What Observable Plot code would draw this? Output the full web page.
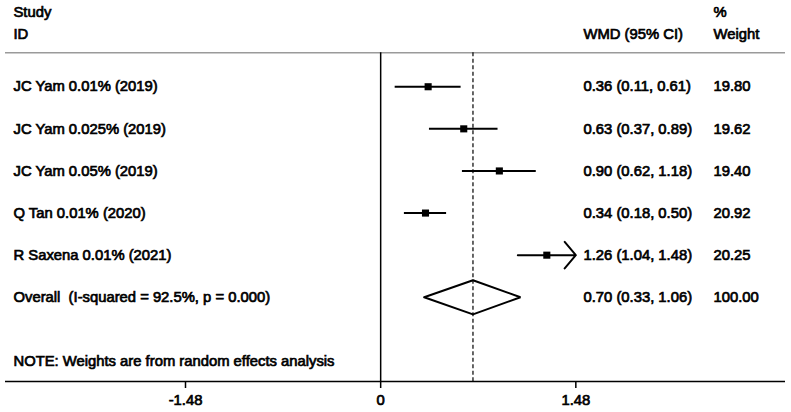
<!DOCTYPE html>
<html>
<head>
<meta charset="utf-8">
<script src="https://cdn.jsdelivr.net/npm/d3@7"></script>
<script src="https://cdn.jsdelivr.net/npm/@observablehq/plot@0.6"></script>
<style>
  html, body { margin: 0; padding: 0; background: #fff; }
  #chart svg { display: block; }
  #chart svg text { stroke: #000; stroke-width: 0.7px; paint-order: stroke; }
</style>
</head>
<body>
<div id="chart"></div>
<script>
// ---- data ----
const studies = ["JC Yam 0.01% (2019)", "JC Yam 0.025% (2019)", "JC Yam 0.05% (2019)", "Q Tan 0.01% (2020)", "R Saxena 0.01% (2021)"];
const wmd = [0.36, 0.63, 0.90, 0.34, 1.26];
const ciLow = [0.11, 0.37, 0.62, 0.18, 1.04];
const ciHigh = [0.61, 0.89, 1.18, 0.50, 1.48];
const weights = [19.80, 19.62, 19.40, 20.92, 20.25];
const overallLabel = "Overall\u00a0\u00a0(I-squared = 92.5%, p = 0.000)";
const overallWmd = 0.70;
const overallLow = 0.33;
const overallHigh = 1.06;
const overallWeight = 100.00;
const xTicks = [-1.48, 0, 1.48];
const noteText = "NOTE: Weights are from random effects analysis";
const headerLeft = ["Study", "ID"];
const headerMid = "WMD (95% CI)";
const headerRight = ["%", "Weight"];

// ---- build table ----
const rows = studies.map((s, i) => ({
  label: s, est: wmd[i], lo: ciLow[i], hi: ciHigh[i], w: weights[i], row: i
}));
const xMax = d3.max(xTicks);
const rowsPlain = rows.filter(d => d.hi < xMax);
const rowsArrow = rows.filter(d => d.hi >= xMax);
const overallRow = rows.length;
const noteRow = 6.524;
const hdr1 = -1.762, hdr2 = -1.238, sepRow = -0.81, axisRow = 7;
const dh = 0.405;
const diamond = [
  {x: overallLow, y: overallRow}, {x: overallWmd, y: overallRow - dh},
  {x: overallHigh, y: overallRow}, {x: overallWmd, y: overallRow + dh},
  {x: overallLow, y: overallRow}
];
const fmt = v => v.toFixed(2);
const ciText = rows.map(d => ({row: d.row, t: `${fmt(d.est)} (${fmt(d.lo)}, ${fmt(d.hi)})`, w: fmt(d.w)}))
  .concat([{row: overallRow, t: `${fmt(overallWmd)} (${fmt(overallLow)}, ${fmt(overallHigh)})`, w: fmt(overallWeight)}]);

const chart = Plot.plot({
  width: 791,
  height: 412,
  marginLeft: 5,
  marginRight: 6,
  marginTop: 0,
  marginBottom: 31,
  style: {fontFamily: "'Liberation Sans', Arial, Helvetica, sans-serif", fontSize: "14.8px", fontWeight: "normal", color: "#000", background: "#fff"},
  x: {domain: [-2.845, 3.07], axis: null},
  y: {domain: [-2.048, axisRow], reverse: true, axis: null},
  marks: [
    // separator under header
    Plot.ruleY([sepRow], {stroke: "#9a9a9a", strokeWidth: 1.5}),
    // x axis line
    Plot.ruleY([axisRow], {stroke: "#000", strokeWidth: 1.5}),
    Plot.axisX(xTicks, {anchor: "bottom", tickSize: 7, tickPadding: 6, tickFormat: d => String(d), stroke: "#000", strokeWidth: 1.5, fill: "#000"}),
    // null line and overall line
    Plot.ruleX([0], {y1: sepRow, y2: axisRow, stroke: "#000", strokeWidth: 1.5}),
    Plot.ruleX([overallWmd], {y1: sepRow, y2: axisRow, stroke: "#000", strokeWidth: 1.2, strokeDasharray: "4,2.5"}),
    // confidence intervals
    Plot.ruleY(rowsPlain, {y: "row", x1: "lo", x2: "hi", stroke: "#000", strokeWidth: 2}),
    Plot.arrow(rowsArrow, {x1: "lo", x2: d => Math.min(d.hi, xMax), y1: "row", y2: "row", stroke: "#000", strokeWidth: 2, headAngle: 100, headLength: 13, bend: 0}),
    // point estimates
    Plot.dot(rows, {x: "est", y: "row", symbol: "square", r: 4, fill: "#000", stroke: "none"}),
    // overall diamond
    Plot.line(diamond, {x: "x", y: "y", stroke: "#000", strokeWidth: 2, strokeLinejoin: "miter"}),
    // left column
    Plot.text(headerLeft, {text: d => d, y: (d, i) => i === 0 ? hdr1 : hdr2, frameAnchor: "left", dx: 8, textAnchor: "start", fill: "#000"}),
    Plot.text(rows, {text: "label", y: "row", frameAnchor: "left", dx: 8, textAnchor: "start", fill: "#000"}),
    Plot.text([overallLabel], {text: d => d, y: () => overallRow, frameAnchor: "left", dx: 8, textAnchor: "start", fill: "#000"}),
    Plot.text([noteText], {text: d => d, y: () => noteRow, frameAnchor: "left", dx: 8, textAnchor: "start", fill: "#000"}),
    // right columns
    Plot.text([headerMid], {text: d => d, y: () => hdr2, frameAnchor: "left", dx: 578, textAnchor: "start", fill: "#000"}),
    Plot.text(headerRight, {text: d => d, y: (d, i) => i === 0 ? hdr1 : hdr2, frameAnchor: "left", dx: 708, textAnchor: "start", fill: "#000"}),
    Plot.text(ciText, {text: "t", y: "row", frameAnchor: "left", dx: 578, textAnchor: "start", fill: "#000"}),
    Plot.text(ciText, {text: "w", y: "row", frameAnchor: "left", dx: 708, textAnchor: "start", fill: "#000"})
  ]
});
document.getElementById("chart").appendChild(chart);
</script>
</body>
</html>
